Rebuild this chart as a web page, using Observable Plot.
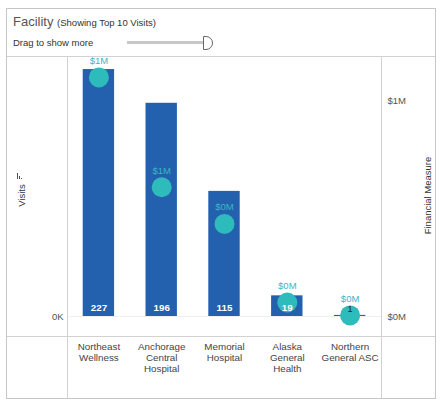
<!DOCTYPE html>
<html>
<head>
<meta charset="utf-8">
<script src="https://cdn.jsdelivr.net/npm/d3@7"></script>
<script src="https://cdn.jsdelivr.net/npm/@observablehq/plot@0.6"></script>
<style>
  body { margin: 0; background: #fff; font-family: "Liberation Sans", Arial, sans-serif; }
  #card { position: absolute; left: 6px; top: 8px; width: 430px; height: 391px; border: 1px solid #c6c6c6; box-sizing: border-box; }
  .line { position: absolute; background: #d2d2d2; }
  #title { position: absolute; left: 13px; top: 14px; color: #555; font-size: 13px; }
  #title small { font-size: 9.5px; color: #333; }
  #drag { position: absolute; left: 13px; top: 37px; font-size: 9.5px; color: #333; }
  #track { position: absolute; left: 127px; top: 41px; width: 77px; height: 3px; background: #c8c8c8; }
  #knob { position: absolute; left: 203px; top: 36px; width: 8px; height: 12px; border: 1px solid #666; border-radius: 0 7px 7px 0; background: #fff; }
  #vis { position: absolute; left: 7px; top: 56px; }
  .ic { position: absolute; width: 1px; background: #555; }
</style>
</head>
<body>
<div id="card"></div>
<div id="title">Facility <small>(Showing Top 10 Visits)</small></div>
<div id="drag">Drag to show more</div>
<div id="track"></div>
<div id="knob"></div>
<div id="vis"></div>
<div class="line" style="left:7px; top:56px; width:428px; height:1px"></div>
<div class="line" style="left:7px; top:336px; width:428px; height:1px"></div>
<div class="line" style="left:67px; top:56px; width:1px; height:342px"></div>
<div class="line" style="left:381px; top:56px; width:1px; height:342px"></div>
<div class="ic" style="left:17px; top:173px; height:6px"></div>
<div class="ic" style="left:19px; top:176px; height:3px"></div>
<div class="ic" style="left:21px; top:178px; height:1px"></div>
<script>
const facilities = ['Northeast Wellness', 'Anchorage Central Hospital', 'Memorial Hospital', 'Alaska General Health', 'Northern General ASC']
const tickLabels = ['Northeast\nWellness', 'Anchorage\nCentral\nHospital', 'Memorial\nHospital', 'Alaska\nGeneral\nHealth', 'Northern\nGeneral ASC']
const visits = [227, 196, 115, 19, 1]
const financial = [1110000, 600000, 430000, 65000, 5000]

// financial measure drawn on the visits scale: 198 visits-units per $1M
const perMillion = 198
const data = facilities.map((f, i) => ({
  facility: f,
  visits: visits[i],
  fin: financial[i],
  finY: financial[i] / 1e6 * perMillion
}))
const money = v => '$' + Math.round(v / 1e6) + 'M'

let chart = Plot.plot({
  width: 428,
  height: 342,
  marginLeft: 60,
  marginRight: 54,
  marginTop: 0,
  marginBottom: 82,
  x: { domain: facilities, paddingInner: 0.5, paddingOuter: 0.25, round: false, label: null },
  y: { domain: [0, 239], label: null },
  marks: [
    Plot.axisX({
      tickSize: 0,
      tickPadding: 25,
      tickFormat: d => tickLabels[facilities.indexOf(d)],
      fontSize: 9.8,
      lineHeight: 1.15,
      fill: '#444',
      label: null
    }),
    Plot.axisY({ anchor: 'left', ticks: [0], tickFormat: () => '0K', tickSize: 0, tickPadding: 4, fill: '#555', label: null }),
    Plot.axisY({ anchor: 'right', ticks: [0, perMillion], tickFormat: d => money(d / perMillion * 1e6), tickSize: 0, tickPadding: 6, fill: '#555', label: null }),
    Plot.ruleY([0], { stroke: '#f0f0f0' }),
    Plot.barY(data, { x: 'facility', y: 'visits', fill: '#2360ae' }),
    Plot.dot(data, { x: 'facility', y: 'finY', r: 10, fill: '#2ebbbb' }),
    Plot.text(data, { x: 'facility', y: 'finY', text: d => money(d.fin), dy: -16.5, fill: '#3db5c4', fontSize: 9.5 }),
    Plot.text(data.filter(d => d.visits >= 5), { x: 'facility', y: 0, text: 'visits', dy: -8.5, fill: '#fff', fontSize: 9.8, fontWeight: 600 }),
    Plot.text(data.filter(d => d.visits < 5), { x: 'facility', y: 0, text: 'visits', dy: -7.5, fill: '#222', fontSize: 9 }),
    Plot.text(['Visits'], { frameAnchor: 'left', textAnchor: 'middle', dx: -46, dy: 9, rotate: -90, fill: '#333', fontSize: 9.5 }),
    Plot.text(['Financial Measure'], { frameAnchor: 'right', textAnchor: 'middle', dx: 46, dy: 9, rotate: -90, fill: '#333', fontSize: 9.5 })
  ],
  style: {
    fontSize: 9.5,
    fontFamily: '"Liberation Sans", Arial, sans-serif',
    color: '#555',
    background: 'transparent'
  }
})
d3.select('#vis').append(() => chart)
</script>
</body>
</html>
